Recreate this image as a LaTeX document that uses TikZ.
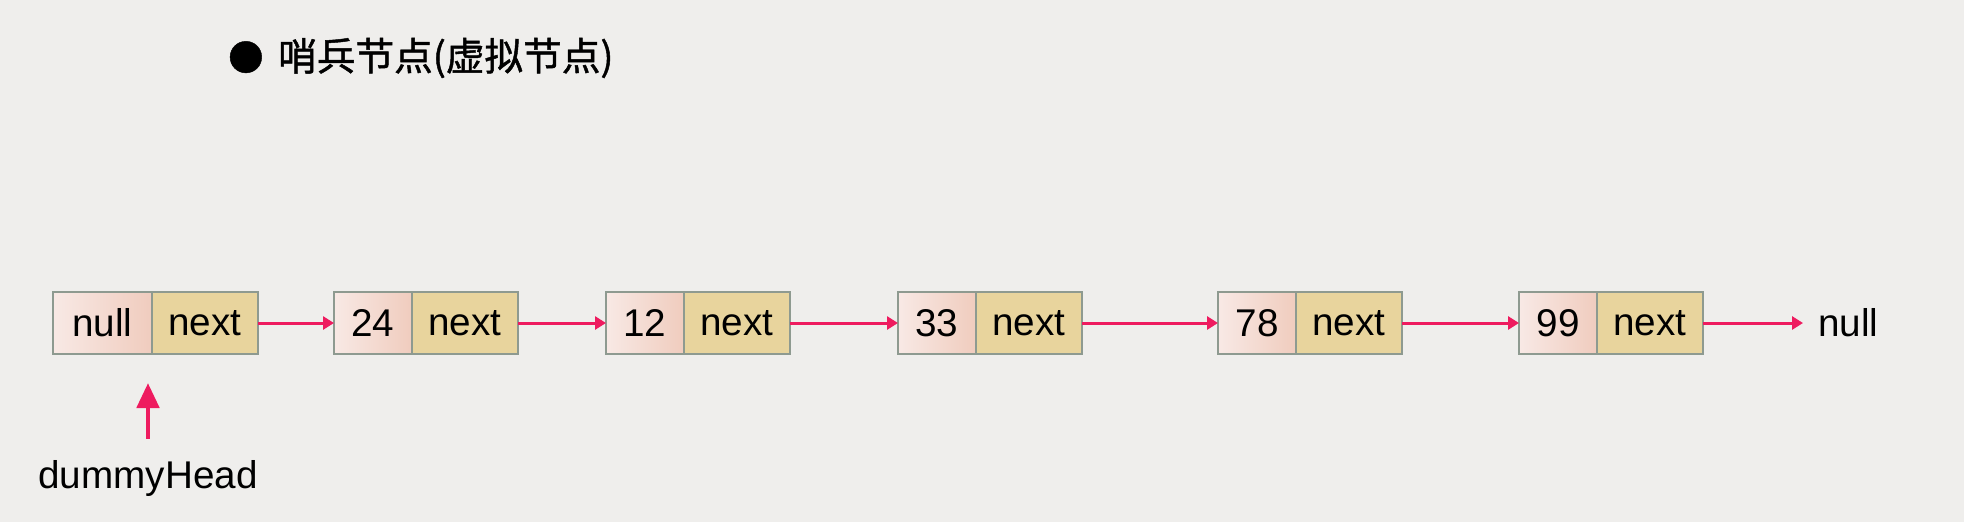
\documentclass[tikz,border=0pt]{standalone}
\usepackage{fontspec}
\setmainfont{Liberation Sans}
\newfontfamily\cjk[FakeBold=1.2]{Noto Sans CJK SC}
\usepackage{tikz}
\usetikzlibrary{arrows.meta, positioning}
\definecolor{paper}{HTML}{EFEEEC}
\definecolor{cellline}{HTML}{8E9A90}
\definecolor{valleft}{HTML}{F8E9E5}
\definecolor{valright}{HTML}{F0CCBE}
\definecolor{nextfill}{HTML}{E8D49D}
\definecolor{ptrred}{HTML}{EE1B5F}
\tikzset{
  valcell/.style={rectangle, draw=cellline, line width=1.2pt, left color=valleft, right color=valright,
    font=\fontsize{22}{26}\selectfont, minimum width=1.56cm, minimum height=1.24cm,
    inner sep=0pt, outer sep=0pt, anchor=west},
  nextcell/.style={rectangle, draw=cellline, line width=1.2pt, fill=nextfill,
    font=\fontsize{22}{26}\selectfont, minimum width=2.12cm, minimum height=1.24cm,
    inner sep=0pt, outer sep=0pt},
  ptr/.style={-{Triangle[length=0.22cm, width=0.26cm]}, draw=ptrred, line width=1.7pt},
  headptr/.style={-{Triangle[length=0.5cm, width=0.44cm]}, draw=ptrred, line width=2.8pt},
  lbl/.style={font=\fontsize{22}{26}\selectfont, inner sep=0pt},
}

\begin{document}
\begin{tikzpicture}[x=0.02cm, y=-0.02cm]
  \useasboundingbox (0,0) rectangle (1964,522);
  \fill[paper] (0,0) rectangle (1964,522);

  \node[lbl, anchor=west, font=\cjk\fontsize{22}{26}\selectfont] (title) at (228,58)
    {{\fontsize{20}{22}\selectfont ●}\hspace{0.38em}哨兵节点(虚拟节点)};

  % dummy head node
  \node[valcell, minimum width=1.98cm] (v0) at (53,323) {null};
  \node[nextcell, right=0pt of v0] (n0) {next};

  % list nodes
  \foreach \i/\x/\val in {1/334/24, 2/606/12, 3/898/33, 4/1218/78, 5/1519/99}{
    \node[valcell] (v\i) at (\x,323) {\val};
    \node[nextcell, right=0pt of v\i] (n\i) {next};
  }

  \foreach \i in {0,...,4}{
    \pgfmathtruncatemacro\j{\i+1}
    \draw[ptr] (n\i.east) -- (v\j.west);
  }

  \node[lbl, anchor=west] (nul) at (1818,323) {null};
  \draw[ptr, shorten >=0.3cm] (n5.east) -- (nul.west);

  \node[lbl, anchor=base] (dh) at (148,488) {dummyHead};
  \coordinate (dhtip) at (148,383);
  \draw[headptr, shorten <=0.42cm] (dh.north) -- (dhtip);
\end{tikzpicture}
\end{document}
